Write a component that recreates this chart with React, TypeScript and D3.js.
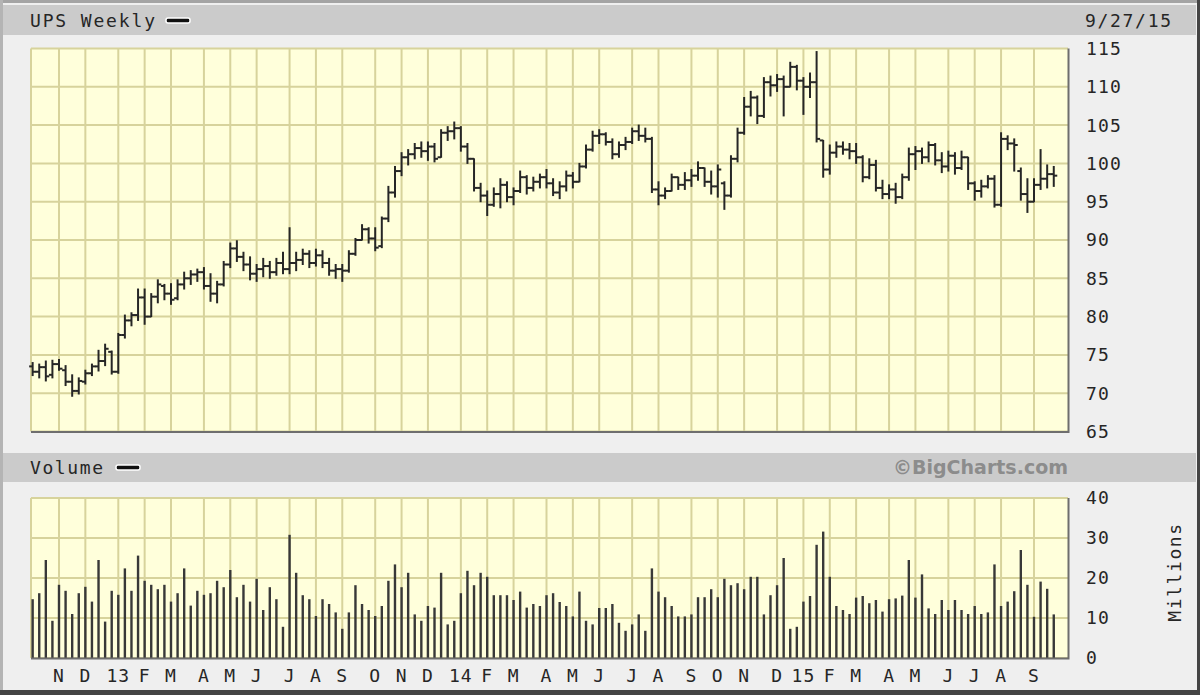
import React, { useEffect, useRef } from "react";
import * as d3 from "d3";

// weekly bars, Sunday-dated, first and last week shown
const firstWeek = new Date(2012, 9, 7);
const lastWeek = new Date(2015, 8, 27);

const opens = [
    73.5, 72.8, 73.4, 72.4, 73.8, 73.0, 71.5, 70.3, 71.5, 72.6,
    73.5, 74.2, 75.4, 72.8, 77.6, 79.5, 80.2, 82.5, 80.0, 82.6,
    84.0, 83.0, 82.4, 84.2, 85.0, 85.5, 85.8, 84.0, 83.0, 84.2,
    86.8, 88.9, 87.8, 86.8, 85.6, 86.2, 86.6, 85.8, 87.0, 86.2,
    87.0, 87.4, 88.2, 87.0, 88.0, 87.0, 86.0, 86.2, 86.0, 88.2,
    90.0, 91.4, 90.2, 89.2, 92.8, 96.2, 99.0, 100.8, 101.2, 102.0,
    101.6, 102.2, 100.8, 104.0, 104.2, 104.6, 102.2, 100.6, 96.8, 95.8,
    94.6, 96.0, 97.2, 95.6, 96.4, 98.2, 96.8, 97.6, 98.2, 97.4,
    96.2, 97.0, 98.4, 97.6, 99.6, 101.8, 103.6, 103.8, 102.8, 101.2,
    102.4, 102.8, 104.2, 103.6, 103.2, 96.6, 95.8, 96.4, 98.2, 97.2,
    97.8, 98.4, 99.4, 97.6, 97.0, 97.4, 95.8, 100.6, 104.0, 107.4,
    108.6, 106.2, 110.6, 110.2, 111.0, 110.0, 112.6, 110.8, 110.0, 110.6,
    103.0, 99.2, 101.4, 102.2, 101.8, 101.6, 100.8, 98.2, 99.8, 96.8,
    96.0, 96.6, 95.6, 98.2, 101.2, 101.6, 100.8, 102.4, 100.4, 99.6,
    101.0, 99.4, 100.8, 97.4, 96.4, 97.0, 98.0, 94.6, 103.2, 102.6,
    99.0, 96.0, 95.0, 97.2, 98.0, 98.6,
];

const highs = [
    74.0, 73.8, 74.2, 74.3, 74.4, 73.6, 72.4, 72.0, 73.0, 73.8,
    75.6, 76.4, 75.5, 77.8, 80.2, 80.5, 83.6, 83.6, 83.0, 84.8,
    84.2, 84.3, 84.8, 85.8, 86.0, 86.2, 86.4, 85.6, 84.6, 87.2,
    89.6, 89.9, 88.4, 87.8, 86.8, 87.6, 87.2, 87.6, 88.4, 91.6,
    88.4, 88.8, 88.6, 88.8, 88.6, 87.6, 86.8, 86.8, 88.6, 90.2,
    92.0, 91.6, 91.6, 93.0, 97.0, 99.6, 101.4, 101.8, 102.6, 102.8,
    102.8, 102.6, 104.4, 104.8, 105.4, 104.8, 102.6, 100.6, 97.4, 96.4,
    96.8, 98.0, 97.6, 96.8, 99.0, 98.4, 98.2, 98.6, 99.2, 98.0,
    97.6, 99.0, 98.8, 100.0, 102.4, 104.2, 104.4, 104.0, 103.2, 102.8,
    103.4, 104.6, 105.0, 104.6, 103.4, 97.6, 96.8, 98.6, 98.2, 98.8,
    99.2, 100.2, 99.4, 99.0, 99.8, 97.6, 101.0, 104.6, 108.6, 109.4,
    108.8, 111.2, 111.4, 111.6, 111.4, 113.2, 112.8, 111.2, 111.8, 114.6,
    103.0, 102.4, 102.8, 102.8, 102.6, 102.6, 101.0, 100.6, 100.4, 97.8,
    97.2, 97.4, 98.6, 102.0, 102.2, 102.0, 102.8, 102.6, 101.4, 101.6,
    101.4, 101.6, 100.8, 97.6, 97.8, 98.4, 98.4, 104.0, 103.6, 103.2,
    99.4, 98.0, 98.0, 101.8, 99.8, 99.6,
];

const lows = [
    72.3, 72.0, 71.6, 72.0, 73.0, 71.0, 69.6, 69.9, 71.2, 72.3,
    72.9, 73.6, 72.5, 72.6, 77.2, 78.8, 79.5, 79.0, 80.0, 81.8,
    82.2, 81.6, 82.2, 83.6, 84.2, 84.6, 83.6, 82.0, 81.8, 84.0,
    86.4, 87.2, 86.0, 84.8, 84.6, 85.2, 85.0, 85.4, 85.6, 85.6,
    86.0, 86.8, 86.4, 86.6, 86.4, 85.4, 85.0, 84.6, 85.8, 88.0,
    90.0, 89.6, 88.6, 89.0, 92.4, 95.6, 98.4, 99.8, 100.6, 100.8,
    100.4, 100.2, 100.8, 103.0, 103.2, 101.6, 100.0, 96.4, 95.0, 93.2,
    94.4, 94.2, 95.0, 94.6, 96.2, 96.0, 96.4, 96.8, 96.8, 95.8,
    95.4, 96.4, 96.8, 97.6, 99.4, 101.6, 102.6, 102.4, 100.6, 100.8,
    101.8, 102.6, 103.0, 102.8, 96.2, 94.6, 95.4, 96.4, 96.6, 96.6,
    97.0, 97.8, 97.0, 96.0, 95.6, 94.0, 95.6, 100.2, 103.8, 106.2,
    105.2, 106.0, 108.8, 109.4, 106.2, 110.0, 109.6, 106.4, 108.6, 102.8,
    98.2, 98.6, 100.8, 101.2, 100.6, 100.0, 97.6, 98.0, 96.4, 95.4,
    95.4, 94.8, 95.4, 97.8, 99.2, 100.0, 100.2, 99.8, 98.8, 99.0,
    98.6, 99.2, 96.6, 95.2, 95.6, 96.8, 94.3, 94.4, 101.8, 99.0,
    95.2, 93.6, 95.0, 96.6, 96.8, 97.0,
];

const closes = [
    72.8, 73.4, 72.2, 73.8, 73.2, 71.5, 70.3, 71.6, 72.6, 73.5,
    74.2, 75.8, 72.8, 77.6, 79.5, 80.2, 82.5, 80.0, 82.6, 84.2,
    83.0, 82.2, 84.2, 85.0, 85.5, 85.8, 84.0, 83.0, 84.2, 86.8,
    88.9, 87.8, 86.8, 85.6, 86.2, 86.6, 85.8, 87.0, 86.2, 87.0,
    87.4, 88.2, 87.0, 88.0, 87.0, 86.0, 86.2, 86.0, 88.2, 90.0,
    91.4, 90.2, 89.0, 92.8, 96.2, 99.0, 100.8, 101.2, 102.0, 101.6,
    102.2, 100.6, 104.0, 104.2, 104.6, 102.2, 100.6, 96.8, 95.8, 94.6,
    96.0, 97.2, 95.6, 96.4, 98.2, 96.8, 97.6, 98.2, 97.4, 96.2,
    97.0, 98.4, 97.6, 99.6, 101.8, 103.6, 103.8, 102.8, 101.2, 102.4,
    102.8, 104.2, 103.6, 103.2, 96.6, 95.8, 96.4, 98.2, 97.2, 97.8,
    98.4, 99.4, 97.6, 97.0, 99.2, 95.8, 100.6, 104.0, 107.4, 108.6,
    106.2, 110.6, 110.2, 111.0, 110.0, 112.6, 110.8, 110.0, 110.6, 103.2,
    99.2, 101.4, 102.2, 101.8, 101.6, 100.8, 98.2, 99.8, 96.8, 96.0,
    96.6, 95.6, 98.2, 101.2, 101.6, 100.8, 102.4, 100.4, 99.6, 101.0,
    99.4, 100.8, 97.4, 96.4, 97.0, 98.0, 94.6, 103.2, 102.6, 102.4,
    96.0, 95.0, 97.2, 98.0, 98.6, 98.4,
];

// millions of shares
const volumes = [
    14.7, 16.2, 24.5, 9.3, 18.3, 16.8, 11.0, 16.2, 17.8, 14.1,
    24.5, 9.1, 16.8, 15.8, 22.4, 16.8, 25.6, 19.3, 18.3, 17.2,
    18.3, 14.1, 16.2, 22.4, 13.1, 16.8, 15.8, 16.2, 19.3, 17.7,
    22.0, 15.2, 18.3, 14.1, 19.8, 12.0, 17.7, 14.7, 7.8, 30.8,
    21.3, 15.7, 14.7, 10.5, 14.7, 13.5, 11.4, 7.3, 11.4, 18.2,
    13.5, 12.0, 10.5, 13.0, 19.3, 23.4, 17.7, 21.3, 10.9, 9.3,
    13.0, 12.6, 21.3, 8.4, 9.3, 16.2, 21.8, 18.2, 21.3, 20.3,
    15.7, 15.7, 15.7, 14.5, 16.6, 12.6, 13.5, 13.0, 15.7, 16.2,
    14.0, 13.0, 10.4, 16.6, 9.3, 8.4, 12.5, 12.5, 13.5, 8.8,
    6.8, 8.4, 10.9, 6.8, 22.4, 16.6, 15.2, 13.0, 10.4, 10.4,
    10.9, 15.2, 15.2, 17.2, 15.2, 19.8, 18.2, 18.7, 17.2, 20.3,
    20.3, 10.9, 15.7, 18.2, 25.0, 7.3, 7.8, 14.1, 15.5, 28.3,
    31.6, 20.3, 13.0, 12.0, 11.0, 15.1, 15.5, 13.7, 14.5, 11.6,
    14.7, 14.9, 15.6, 24.5, 15.1, 20.9, 12.4, 11.0, 14.5, 12.0,
    14.5, 12.0, 11.0, 13.0, 11.0, 11.4, 23.4, 13.0, 14.1, 16.7,
    27.0, 18.3, 10.3, 19.1, 17.3, 10.9,
];

// months with a grid line, Nov 2012 .. Sep 2015
const firstLabelMonth = new Date(2012, 10, 1);
const monthLabels = [
    "N", "D", "13", "F", "M", "A", "M", "J", "J", "A", "S", "O",
    "N", "D", "14", "F", "M", "A", "M", "J", "J", "A", "S", "O",
    "N", "D", "15", "F", "M", "A", "M", "J", "J", "A", "S",
];
const priceTicks = [65, 70, 75, 80, 85, 90, 95, 100, 105, 110, 115];
const volumeTicks = [0, 10, 20, 30, 40];

const MONO = "'DejaVu Sans Mono', monospace";
const GRID = "#d7d39c";
const PLOT_BG = "#ffffdb";
const BAND = "#cbcbcb";
const INK = "#262626";

const App = () => {
    const svgRef = useRef<SVGSVGElement>(null);

    useEffect(() => {
        const svg = d3.select(svgRef.current);
        svg.selectAll("*").remove();

        const weeks = d3.timeWeek.range(firstWeek, d3.timeDay.offset(lastWeek, 1));
        const months = d3.timeMonth.range(
            firstLabelMonth,
            d3.timeMonth.offset(firstLabelMonth, monthLabels.length)
        );
        const gridDates = months.map((m) => d3.timeWeek.ceil(m));

        const plotLeft = 31;
        const plotRight = 1068;

        const x = d3
            .scaleTime()
            .domain([gridDates[0], gridDates[gridDates.length - 1]])
            .range([59, 1034]);
        const yPrice = d3.scaleLinear().domain([65, 115]).range([431.5, 48.5]);
        const yVol = d3.scaleLinear().domain([0, 40]).range([658, 498]);

        // page + frame
        svg.append("rect").attr("width", 1200).attr("height", 695).attr("fill", "#efefef");
        svg.append("rect").attr("x", 3).attr("y", 5).attr("width", 1193).attr("height", 30).attr("fill", BAND);
        svg.append("rect").attr("x", 3).attr("y", 453).attr("width", 1193).attr("height", 29).attr("fill", BAND);
        svg.append("line").attr("x1", 0).attr("x2", 1200).attr("y1", 1.5).attr("y2", 1.5)
            .attr("stroke", "#a4a4a4").attr("stroke-width", 3);
        svg.append("line").attr("x1", 1.5).attr("x2", 1.5).attr("y1", 0).attr("y2", 695)
            .attr("stroke", "#b4b4b4").attr("stroke-width", 3);
        svg.append("line").attr("x1", 1198.5).attr("x2", 1198.5).attr("y1", 0).attr("y2", 695)
            .attr("stroke", "#444", ).attr("stroke-width", 3);
        svg.append("line").attr("x1", 0).attr("x2", 1200).attr("y1", 692.5).attr("y2", 692.5)
            .attr("stroke", "#444").attr("stroke-width", 5);

        const drawPanel = (y: d3.ScaleLinear<number, number>, ticks: number[]) => {
            const [bottom, top] = y.range();
            const g = svg.append("g");
            g.append("rect")
                .attr("x", plotLeft).attr("y", top)
                .attr("width", plotRight - plotLeft).attr("height", bottom - top)
                .attr("fill", PLOT_BG);
            g.selectAll("line.h")
                .data(ticks)
                .enter()
                .append("line")
                .attr("x1", plotLeft).attr("x2", plotRight)
                .attr("y1", (d) => y(d)).attr("y2", (d) => y(d))
                .attr("stroke", GRID).attr("stroke-width", 2);
            g.selectAll("line.v")
                .data(gridDates)
                .enter()
                .append("line")
                .attr("x1", (d) => x(d)).attr("x2", (d) => x(d))
                .attr("y1", top).attr("y2", bottom)
                .attr("stroke", GRID).attr("stroke-width", 2);
            g.append("line")
                .attr("x1", plotLeft).attr("x2", plotLeft).attr("y1", top).attr("y2", bottom)
                .attr("stroke", GRID).attr("stroke-width", 2);
            return g;
        };

        const shadow = (y: d3.ScaleLinear<number, number>) => {
            const [bottom, top] = y.range();
            svg.append("path")
                .attr("d", `M${plotLeft},${bottom + 0.5}H${plotRight + 0.5}V${top}`)
                .attr("fill", "none").attr("stroke", "#6e6e6e").attr("stroke-width", 2);
        };

        // price panel
        const pricePanel = drawPanel(yPrice, priceTicks);
        const bars = pricePanel
            .selectAll("g.bar")
            .data(weeks.slice(0, highs.length))
            .enter()
            .append("g")
            .attr("transform", (d) => `translate(${x(d)},0)`)
            .attr("stroke", INK)
            .attr("stroke-width", 2);
        bars.append("line")
            .attr("y1", (d, i) => yPrice(highs[i]) - 0.5)
            .attr("y2", (d, i) => yPrice(lows[i]) + 0.5);
        bars.append("line")
            .attr("x1", -3.5).attr("x2", 0)
            .attr("y1", (d, i) => yPrice(opens[i])).attr("y2", (d, i) => yPrice(opens[i]));
        bars.append("line")
            .attr("x1", 0).attr("x2", 3.5)
            .attr("y1", (d, i) => yPrice(closes[i])).attr("y2", (d, i) => yPrice(closes[i]));
        shadow(yPrice);

        // volume panel
        const volPanel = drawPanel(yVol, volumeTicks);
        volPanel
            .selectAll("line.vol")
            .data(weeks.slice(0, volumes.length))
            .enter()
            .append("line")
            .attr("x1", (d) => x(d)).attr("x2", (d) => x(d))
            .attr("y1", yVol(0)).attr("y2", (d, i) => yVol(volumes[i]))
            .attr("stroke", "#383838").attr("stroke-width", 2.4);
        shadow(yVol);

        const text = (tx: number, ty: number, s: string, size = 18) =>
            svg.append("text")
                .attr("x", tx).attr("y", ty)
                .attr("font-family", MONO).attr("font-size", size)
                .attr("fill", INK)
                .text(s);

        // header texts
        text(30, 26.5, "UPS Weekly").attr("textLength", 125).attr("lengthAdjust", "spacing");
        text(1085, 26.5, "9/27/15").attr("textLength", 86).attr("lengthAdjust", "spacing");
        text(30, 474, "Volume").attr("textLength", 73).attr("lengthAdjust", "spacing");

        const legendKey = (lx: number, ly: number) =>
            svg.append("rect")
                .attr("x", lx).attr("y", ly).attr("width", 24).attr("height", 5).attr("rx", 2)
                .attr("fill", "#111").attr("stroke", "#fff").attr("stroke-width", 1.5);
        legendKey(166, 18);
        legendKey(116, 465);

        svg.append("text")
            .attr("x", 1068).attr("y", 474)
            .attr("text-anchor", "end")
            .attr("font-family", "'DejaVu Sans', sans-serif")
            .attr("font-weight", "bold").attr("font-size", 19)
            .attr("fill", "#8c8c8c")
            .text("\u00a9BigCharts.com");

        // right axes
        svg.append("g")
            .selectAll("text")
            .data(priceTicks)
            .enter()
            .append("text")
            .attr("x", 1086).attr("y", (d) => yPrice(d)).attr("dy", "0.36em")
            .attr("font-family", MONO).attr("font-size", 18).attr("letter-spacing", 1.2)
            .attr("fill", INK)
            .text((d) => d);
        svg.append("g")
            .selectAll("text")
            .data(volumeTicks)
            .enter()
            .append("text")
            .attr("x", 1086).attr("y", (d) => yVol(d)).attr("dy", "0.36em")
            .attr("font-family", MONO).attr("font-size", 18).attr("letter-spacing", 1.2)
            .attr("fill", INK)
            .text((d) => d);
        svg.append("text")
            .attr("transform", "translate(1175,572) rotate(-90)")
            .attr("text-anchor", "middle").attr("dy", "0.36em")
            .attr("font-family", MONO).attr("font-size", 18).attr("letter-spacing", 1.6)
            .attr("fill", INK)
            .text("Millions");

        // month labels
        svg.append("g")
            .selectAll("text")
            .data(gridDates)
            .enter()
            .append("text")
            .attr("x", (d) => x(d)).attr("y", 682)
            .attr("text-anchor", "middle")
            .attr("font-family", MONO).attr("font-size", 18).attr("letter-spacing", 1)
            .attr("fill", INK)
            .text((d, i) => monthLabels[i]);
    }, []);

    return (
        <svg
            ref={svgRef}
            width={1200}
            height={695}
            style={{ position: "absolute", left: 0, top: 0, display: "block" }}
        />
    );
};

export default App;
